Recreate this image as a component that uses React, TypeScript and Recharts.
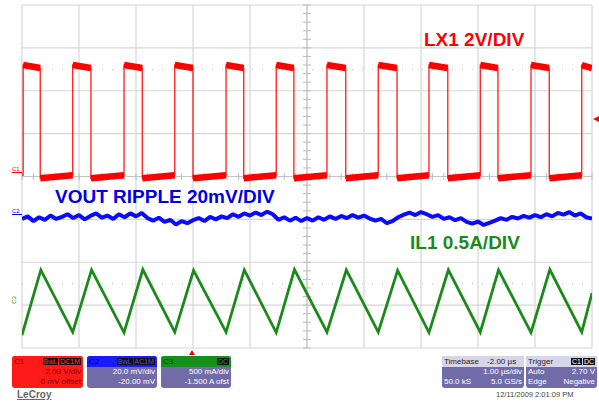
import React from "react";
import { LineChart, Line, XAxis, YAxis, CartesianGrid, ReferenceLine } from "recharts";

// screen units: x = divisions (1 µs/div), y = divisions from centre line
const DIV_X = [0, 1, 2, 3, 4, 5, 6, 7, 8, 9, 10];
const DIV_Y = [-4, -3, -2, -1, 0, 1, 2, 3, 4];

// LX1 switch node: edge times
const LX_RISE = [0.02, 0.89, 1.79, 2.68, 3.58, 4.46, 5.35, 6.25, 7.14, 8.04, 8.93, 9.82];
const LX_FALL = [0.32, 1.21, 2.11, 3.0, 3.89, 4.77, 5.68, 6.58, 7.47, 8.35, 9.25];
const LX_HIGH = [2.6, 2.53]; // start / end of each high plateau
const LX_LOW = [-0.04, 0.03]; // start / end of each low plateau

// IL1 inductor current: corners of the triangle wave
const IL_TIME = [0.0, 0.33, 0.89, 1.22, 1.79, 2.12, 2.68, 3.01, 3.58, 3.9, 4.46, 4.78, 5.35, 5.69, 6.25, 6.59, 7.14, 7.48, 8.04, 8.36, 8.93, 9.26, 9.82, 10.0];
const IL_DIV = [-3.7, -2.18, -3.63, -2.18, -3.64, -2.17, -3.63, -2.19, -3.63, -2.18, -3.64, -2.17, -3.63, -2.18, -3.63, -2.19, -3.64, -2.18, -3.63, -2.18, -3.64, -2.17, -3.63, -2.72];

// VOUT ripple, one reading every 0.1 div
const VOUT_DIV = [
  -0.99, -0.93, -1.04, -0.95, -1.01, -0.91, -0.99, -0.94, -0.88, -0.97,
  -0.9, -1.0, -0.92, -0.86, -0.96, -0.91, -0.99, -0.88, -0.95, -0.86,
  -0.93, -0.85, -0.97, -1.03, -0.96, -1.06, -1.01, -1.12, -1.04, -1.09,
  -1.02, -0.97, -1.04, -0.94, -1.0, -0.93, -0.97, -0.88, -0.94, -0.86,
  -0.91, -0.84, -0.9, -0.82, -0.88, -1.01, -0.95, -1.03, -0.96, -1.04,
  -0.97, -1.03, -0.95, -1.01, -0.93, -0.99, -0.92, -0.97, -0.9, -0.96,
  -0.91, -0.98, -1.03, -0.99, -1.09, -1.04, -0.95, -0.89, -0.84, -0.9,
  -0.83, -0.88, -0.94, -0.9, -0.99, -0.95, -1.02, -0.97, -1.06, -1.1,
  -1.05, -1.13, -1.08, -1.03, -0.97, -1.01, -0.94, -0.98, -0.92, -0.96,
  -0.9, -0.95, -0.88, -0.93, -0.85, -0.89, -0.83, -0.91, -0.86, -0.95,
  -0.98,
];

type Pt = { t: number; v: number | null };

const lxTrace: Pt[] = [{ t: 0, v: LX_LOW[1] }];
const lxBand: Pt[] = [];
LX_RISE.forEach((r, i) => {
  const f = LX_FALL[i];
  lxTrace.push({ t: r, v: LX_LOW[1] }, { t: r, v: LX_HIGH[0] });
  const highEnd = f ?? 10;
  lxBand.push({ t: r, v: LX_HIGH[0] }, { t: highEnd, v: LX_HIGH[1] }, { t: highEnd + 0.001, v: null });
  if (f !== undefined) {
    lxTrace.push({ t: f, v: LX_HIGH[1] }, { t: f, v: LX_LOW[0] });
    const next = LX_RISE[i + 1] ?? 10;
    lxBand.push({ t: f, v: LX_LOW[0] }, { t: next, v: LX_LOW[1] }, { t: next + 0.001, v: null });
  } else {
    lxTrace.push({ t: 10, v: LX_HIGH[1] });
  }
});

const ilData = IL_TIME.map((t, i) => ({ t, v: IL_DIV[i] }));
const voutData = VOUT_DIV.map((v, i) => ({ t: i / 10, v }));

const MINOR = Array.from({ length: 51 }, (_, i) => i * 0.2);
const MINOR_Y = Array.from({ length: 41 }, (_, i) => -4 + i * 0.2);

const GRID = "#d6d6d6";

const boxText: React.CSSProperties = {
  fontSize: 8,
  lineHeight: "10px",
  height: 10,
  display: "flex",
  justifyContent: "space-between",
  padding: "0 2px",
  whiteSpace: "nowrap",
};

function Badge({ text, color }: { text: string; color: string }) {
  return (
    <span style={{ background: "#111", color, padding: "0 1px", marginLeft: 1, fontSize: 7 }}>{text}</span>
  );
}

function InfoBox({
  left,
  width,
  head,
  headBg,
  headColor,
  badges,
  badgeColor,
  rows,
  bodyBg,
  bodyColor,
}: {
  left: number;
  width: number;
  head: React.ReactNode;
  headBg: string;
  headColor: string;
  badges: string[];
  badgeColor: string;
  rows: [string, string][];
  bodyBg: string;
  bodyColor: string;
}) {
  return (
    <div
      style={{
        position: "absolute",
        left,
        top: 356,
        width,
        height: 32,
        borderRadius: 3,
        overflow: "hidden",
        background: bodyBg,
        color: bodyColor,
      }}
    >
      <div style={{ ...boxText, background: headBg, color: headColor, height: 11, lineHeight: "11px" }}>
        <span>{head}</span>
        <span>
          {badges.map((b) => (
            <Badge key={b} text={b} color={badgeColor} />
          ))}
        </span>
      </div>
      {rows.map(([a, b], i) => (
        <div key={i} style={boxText}>
          <span>{a}</span>
          <span>{b}</span>
        </div>
      ))}
    </div>
  );
}

const label: React.CSSProperties = {
  position: "absolute",
  fontFamily: "'Liberation Sans', Arial, sans-serif",
  fontWeight: "bold",
  fontSize: 19,
  lineHeight: "19px",
  whiteSpace: "nowrap",
};

export default function App() {
  return (
    <div
      style={{
        position: "fixed",
        left: 0,
        top: 0,
        width: 599,
        height: 403,
        background: "#fff",
        fontFamily: "'Liberation Sans', Arial, sans-serif",
        overflow: "hidden",
      }}
    >
      <LineChart width={599} height={352} margin={{ top: 5, right: 7, bottom: 4, left: 22 }}>
        <XAxis type="number" dataKey="t" domain={[0, 10]} ticks={DIV_X} hide allowDataOverflow />
        <YAxis type="number" domain={[-4, 4]} ticks={DIV_Y} hide allowDataOverflow />
        <CartesianGrid stroke={GRID} strokeWidth={1.2} />
        <ReferenceLine x={5} stroke="#c4c4c4" />
        <ReferenceLine y={0} stroke="#c4c4c4" />
        <ReferenceLine y={2.5} stroke="#bbb" strokeDasharray="1 9" />
        <ReferenceLine y={-2.5} stroke="#bbb" strokeDasharray="1 9" />
        {MINOR.map((x) => (
          <ReferenceLine
            key={"mx" + x}
            segment={[
              { x, y: -0.08 },
              { x, y: 0.08 },
            ]}
            stroke="#bbb"
          />
        ))}
        {MINOR_Y.map((y) => (
          <ReferenceLine
            key={"my" + y}
            segment={[
              { x: 4.93, y },
              { x: 5.07, y },
            ]}
            stroke="#bbb"
          />
        ))}
        <Line data={ilData} dataKey="v" stroke="#1b8a1b" strokeWidth={2.8} dot={false} isAnimationActive={false} />
        <Line
          data={voutData}
          dataKey="v"
          stroke="#0a0aff"
          strokeWidth={4}
          strokeLinejoin="bevel"
          dot={false}
          isAnimationActive={false}
        />
        <Line data={lxTrace} dataKey="v" stroke="#ff1a1a" strokeWidth={1.3} dot={false} isAnimationActive={false} />
        <Line
          data={lxBand}
          dataKey="v"
          stroke="#ff0000"
          strokeWidth={6.5}
          dot={false}
          connectNulls={false}
          isAnimationActive={false}
        />
      </LineChart>

      {/* trace annotations */}
      <div style={{ ...label, left: 424, top: 30, color: "#ff0000" }}>LX1 2V/DIV</div>
      <div style={{ ...label, left: 55, top: 187, color: "#0000e6" }}>VOUT RIPPLE 20mV/DIV</div>
      <div style={{ ...label, left: 410, top: 233, color: "#1b8a1b" }}>IL1 0.5A/DIV</div>

      {/* channel ground markers */}
      <div style={{ position: "absolute", left: 12, top: 166, fontSize: 6, color: "#ff0000", borderBottom: "1px solid #ff0000", width: 10 }}>C1</div>
      <div style={{ position: "absolute", left: 12, top: 208, fontSize: 6, color: "#0000ff", borderBottom: "1px solid #0000ff", width: 10 }}>C2</div>
      <div style={{ position: "absolute", left: 10, top: 297, fontSize: 6, color: "#1b8a1b", transform: "rotate(-90deg)" }}>C3</div>

      {/* trigger markers */}
      <div
        style={{
          position: "absolute",
          left: 593,
          top: 116,
          width: 0,
          height: 0,
          borderTop: "3px solid transparent",
          borderBottom: "3px solid transparent",
          borderRight: "6px solid #ff0000",
        }}
      />
      <div
        style={{
          position: "absolute",
          left: 189,
          top: 350,
          width: 0,
          height: 0,
          borderLeft: "3px solid transparent",
          borderRight: "3px solid transparent",
          borderBottom: "5px solid #ff0000",
        }}
      />

      <InfoBox
        left={12}
        width={71}
        head="C1"
        headBg="#ff1a1a"
        headColor="#7a0000"
        badges={["BwL", "DC1M"]}
        badgeColor="#ff3030"
        rows={[
          ["", "2.00 V/div"],
          ["", "0 mV offset"],
        ]}
        bodyBg="#ff1a1a"
        bodyColor="#7a0000"
      />
      <InfoBox
        left={87}
        width={70}
        head="C2"
        headBg="#1a1aff"
        headColor="#00007a"
        badges={["BwL", "AC1M"]}
        badgeColor="#4a4aff"
        rows={[
          ["", "20.0 mV/div"],
          ["", "-20.00 mV"],
        ]}
        bodyBg="#716ca8"
        bodyColor="#fff"
      />
      <InfoBox
        left={161}
        width={70}
        head="C3"
        headBg="#15901a"
        headColor="#004a00"
        badges={["DC"]}
        badgeColor="#20a020"
        rows={[
          ["", "500 mA/div"],
          ["", "-1.500 A ofst"],
        ]}
        bodyBg="#716ca8"
        bodyColor="#fff"
      />
      <InfoBox
        left={442}
        width={82}
        head={
          <span>
            Timebase <span style={{ marginLeft: 6 }}>-2.00 µs</span>
          </span>
        }
        headBg="#d8d5e8"
        headColor="#222"
        badges={[]}
        badgeColor="#fff"
        rows={[
          ["", "1.00 µs/div"],
          ["50.0 kS", "5.0 GS/s"],
        ]}
        bodyBg="#716ca8"
        bodyColor="#fff"
      />
      <InfoBox
        left={526}
        width={71}
        head="Trigger"
        headBg="#d8d5e8"
        headColor="#222"
        badges={["C1", "DC"]}
        badgeColor="#fff"
        rows={[
          ["Auto", "2.70 V"],
          ["Edge", "Negative"],
        ]}
        bodyBg="#716ca8"
        bodyColor="#fff"
      />

      <div
        style={{
          position: "absolute",
          left: 17,
          top: 389,
          fontSize: 10,
          fontWeight: "bold",
          color: "#666",
          textDecoration: "underline",
        }}
      >
        LeCroy
      </div>
      <div style={{ position: "absolute", left: 496, top: 390, fontSize: 7.5, color: "#444" }}>
        12/11/2009 2:01:09 PM
      </div>
    </div>
  );
}
